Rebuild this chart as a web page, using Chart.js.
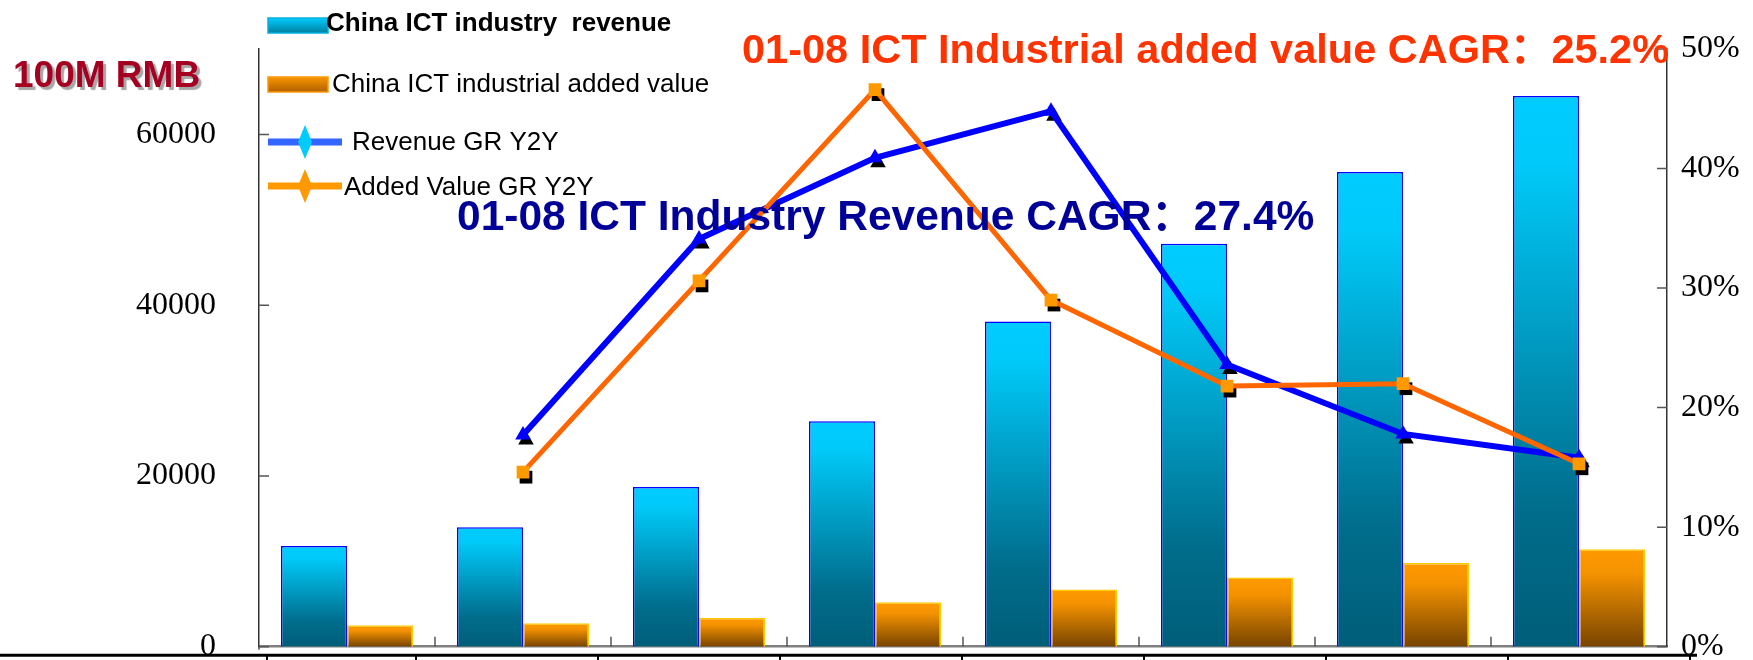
<!DOCTYPE html>
<html>
<head>
<meta charset="utf-8">
<script src="https://cdn.jsdelivr.net/npm/chart.js@4.4.1/dist/chart.umd.min.js"></script>
<style>
  html, body { margin: 0; padding: 0; background: #fff; overflow: hidden; }
  #caixa { width: 1753px; height: 720px; }
</style>
</head>
<body>
<div id="caixa"><canvas id="grafico" width="1753" height="720"></canvas></div>
<script>
const years = ["2001", "2002", "2003", "2004", "2005", "2006", "2007", "2008"];
const revenue = [11800, 14000, 18700, 26400, 38100, 47200, 55600, 64500];
const addedValue = [2500, 2760, 3400, 5200, 6700, 8100, 9800, 11400];
const revenueGrowth = [null, 17.7, 34.1, 40.9, 44.8, 23.6, 17.8, 15.8];
const addedValueGrowth = [null, 14.6, 30.6, 46.6, 29.0, 21.8, 22.0, 15.3];

const leftTicks = [0, 20000, 40000, 60000];
const rightTicks = [0, 10, 20, 30, 40, 50];

const legendLabels = [
  "China ICT industry  revenue",
  "China ICT industrial added value",
  "Revenue GR Y2Y",
  "Added Value GR Y2Y",
];
const unitLabel = "100M RMB";
const revenueCagrLabel = "01-08 ICT Industry Revenue CAGR：27.4%";
const addedCagrLabel = "01-08 ICT Industrial added value CAGR：25.2%";

const sans = "'Liberation Sans', Arial, 'Noto Sans CJK SC', sans-serif";
const serif = "'Liberation Serif', 'Times New Roman', serif";

function barGradient(stops) {
  return (context) => {
    const { ctx, chartArea, scales } = context.chart;
    if (!chartArea || context.type !== "data") return stops[0][1];
    const top = scales.y.getPixelForValue(context.raw);
    const base = scales.y.getPixelForValue(0);
    const g = ctx.createLinearGradient(0, top, 0, base);
    stops.forEach(([p, c]) => g.addColorStop(p, c));
    return g;
  };
}

// keep the axes from pushing the plot area in for their end labels
function fixAxis(width) {
  return (scale) => {
    scale.width = width;
    scale.paddingTop = 0;
    scale.paddingBottom = 0;
  };
}

const markerShadow = {
  id: "markerShadow",
  beforeDatasetDraw(chart, args) {
    const ds = chart.data.datasets[args.index];
    if (ds.type !== "line") return;
    const ctx = chart.ctx;
    ctx.save();
    ctx.fillStyle = "#000";
    args.meta.data.forEach((pt, i) => {
      if (ds.data[i] == null || pt.skip) return;
      Chart.helpers.drawPoint(ctx, {
        pointStyle: ds.pointStyle,
        radius: ds.pointRadius,
        borderWidth: 0,
        rotation: 0,
      }, pt.x + 3, pt.y + 5);
    });
    ctx.restore();
  },
};

const axisMarks = {
  id: "axisMarks",
  afterDraw(chart) {
    const { ctx, chartArea: a, scales } = chart;
    ctx.save();
    ctx.strokeStyle = "#555";
    ctx.lineWidth = 1.5;
    ctx.beginPath();
    scales.y.ticks.forEach((t) => {
      const py = scales.y.getPixelForValue(t.value);
      ctx.moveTo(a.left, py);
      ctx.lineTo(a.left + 10, py);
    });
    scales.y1.ticks.forEach((t) => {
      const py = scales.y1.getPixelForValue(t.value);
      ctx.moveTo(a.right - 10, py);
      ctx.lineTo(a.right, py);
    });
    for (let i = 1; i < years.length; i++) {
      const px = (scales.x.getPixelForValue(i - 1) + scales.x.getPixelForValue(i)) / 2;
      ctx.moveTo(px, a.bottom);
      ctx.lineTo(px, a.bottom - 10);
    }
    ctx.moveTo(a.left, a.bottom);
    ctx.lineTo(a.left, a.bottom + 3);
    ctx.stroke();

    // the black rule under the plot, left over from the original slide
    const ruleY = a.bottom + 8.5;
    ctx.strokeStyle = "#000";
    ctx.lineWidth = 3;
    ctx.beginPath();
    ctx.moveTo(0, ruleY);
    ctx.lineTo(a.right + 30, ruleY);
    ctx.stroke();
    ctx.lineWidth = 2;
    ctx.beginPath();
    const start = a.left - 25;
    const step = (a.right + 23 - start) / years.length;
    ctx.moveTo(a.left + 8, ruleY);
    ctx.lineTo(a.left + 8, ruleY + 12);
    for (let i = 1; i <= years.length; i++) {
      ctx.moveTo(start + step * i, ruleY);
      ctx.lineTo(start + step * i, ruleY + 12);
    }
    ctx.stroke();
    ctx.restore();
  },
};

const annotations = {
  id: "annotations",
  afterDraw(chart) {
    const ctx = chart.ctx;
    ctx.save();
    ctx.textBaseline = "middle";
    ctx.textAlign = "left";

    ctx.font = `bold 41.5px ${sans}`;
    ctx.fillStyle = "#ff3300";
    ctx.fillText(addedCagrLabel, 742, 52);
    ctx.font = `bold 42.5px ${sans}`;
    ctx.fillStyle = "#000099";
    ctx.fillText(revenueCagrLabel, 457, 218);

    ctx.save();
    ctx.font = `bold 37px ${sans}`;
    ctx.shadowColor = "rgba(0, 0, 0, 0.35)";
    ctx.shadowOffsetX = 3;
    ctx.shadowOffsetY = 3;
    ctx.shadowBlur = 1;
    ctx.fillStyle = "#a50021";
    ctx.fillText(unitLabel, 13, 77);
    ctx.restore();

    // legend
    let g = ctx.createLinearGradient(0, 18, 0, 34);
    g.addColorStop(0, "#00ccff");
    g.addColorStop(1, "#007a99");
    ctx.fillStyle = g;
    ctx.fillRect(268, 18, 60, 15);
    ctx.strokeStyle = "#00b0e0";
    ctx.lineWidth = 1.5;
    ctx.strokeRect(268, 18, 60, 15);

    g = ctx.createLinearGradient(0, 76, 0, 92);
    g.addColorStop(0, "#ff9900");
    g.addColorStop(1, "#b06000");
    ctx.fillStyle = g;
    ctx.fillRect(268, 77, 60, 15);
    ctx.strokeStyle = "#ff9900";
    ctx.strokeRect(268, 77, 60, 15);

    const legendLine = (y, lineColor, diamondColor) => {
      ctx.strokeStyle = lineColor;
      ctx.lineWidth = 7;
      ctx.beginPath();
      ctx.moveTo(268, y);
      ctx.lineTo(342, y);
      ctx.stroke();
      ctx.fillStyle = diamondColor;
      ctx.beginPath();
      ctx.moveTo(305, y - 17);
      ctx.lineTo(312, y);
      ctx.lineTo(305, y + 17);
      ctx.lineTo(298, y);
      ctx.closePath();
      ctx.fill();
    };
    legendLine(142, "#3366ff", "#00ccff");
    legendLine(186, "#ff9900", "#ff9900");

    ctx.fillStyle = "#000";
    ctx.font = `bold 26px ${sans}`;
    ctx.fillText(legendLabels[0], 326, 24);
    ctx.font = `26px ${sans}`;
    ctx.fillText(legendLabels[1], 332, 85);
    ctx.fillText(legendLabels[2], 352, 143);
    ctx.fillText(legendLabels[3], 344, 188);
    ctx.restore();
  },
};

const ctx = document.getElementById("grafico").getContext("2d");
const grafico = new Chart(ctx, {
  data: {
    labels: years,
    datasets: [
      {
        type: "line",
        label: legendLabels[3],
        data: addedValueGrowth,
        yAxisID: "y1",
        borderColor: "#ff6600",
        borderWidth: 5,
        pointStyle: "rect",
        pointRadius: 9,
        pointBackgroundColor: "#ff9900",
        pointBorderColor: "#ff9900",
        pointBorderWidth: 0,
        tension: 0,
        order: 1,
      },
      {
        type: "line",
        label: legendLabels[2],
        data: revenueGrowth,
        yAxisID: "y1",
        borderColor: "#0000ff",
        borderWidth: 6,
        pointStyle: "triangle",
        pointRadius: 9,
        pointBackgroundColor: "#0000ff",
        pointBorderColor: "#0000ff",
        pointBorderWidth: 0,
        tension: 0,
        order: 2,
      },
      {
        type: "bar",
        label: legendLabels[0],
        data: revenue,
        yAxisID: "y",
        backgroundColor: barGradient([[0, "#00ccff"], [0.12, "#00caf9"], [0.75, "#006d8c"], [1, "#005e78"]]),
        borderColor: "#0000ff",
        borderWidth: 1.5,
        categoryPercentage: 0.75,
        barPercentage: 1.0,
        order: 3,
      },
      {
        type: "bar",
        label: legendLabels[1],
        data: addedValue,
        yAxisID: "y",
        backgroundColor: barGradient([[0, "#ff9900"], [0.25, "#f49200"], [1, "#774400"]]),
        borderColor: "#ffcc00",
        borderWidth: 1.5,
        categoryPercentage: 0.75,
        barPercentage: 1.0,
        order: 4,
      },
    ],
  },
  options: {
    responsive: false,
    devicePixelRatio: 1,
    animation: false,
    layout: { padding: { top: 49, left: 0, right: 0, bottom: 73.3 } },
    plugins: {
      legend: { display: false },
      tooltip: { enabled: false },
    },
    scales: {
      x: {
        grid: { display: false },
        ticks: { display: false },
        border: { display: true, color: "#808080", width: 2.5 },
        afterFit: (scale) => { scale.height = 0; },
      },
      y: {
        position: "left",
        min: 0,
        max: 70000,
        afterBuildTicks: (axis) => { axis.ticks = leftTicks.map((v) => ({ value: v })); },
        afterFit: fixAxis(259),
        grid: { display: false, drawTicks: false },
        border: { display: true, color: "#333", width: 1.5 },
        ticks: {
          padding: 43,
          color: "#000",
          font: { family: serif, size: 32 },
          callback: (v) => String(v),
        },
      },
      y1: {
        position: "right",
        min: 0,
        max: 50,
        afterBuildTicks: (axis) => { axis.ticks = rightTicks.map((v) => ({ value: v })); },
        afterFit: fixAxis(1753 - 1667),
        grid: { display: false, drawTicks: false },
        border: { display: true, color: "#333", width: 1.5 },
        ticks: {
          padding: 14,
          color: "#000",
          font: { family: serif, size: 32 },
          callback: (v) => v + "%",
        },
      },
    },
  },
  plugins: [markerShadow, axisMarks, annotations],
});
</script>
</body>
</html>
